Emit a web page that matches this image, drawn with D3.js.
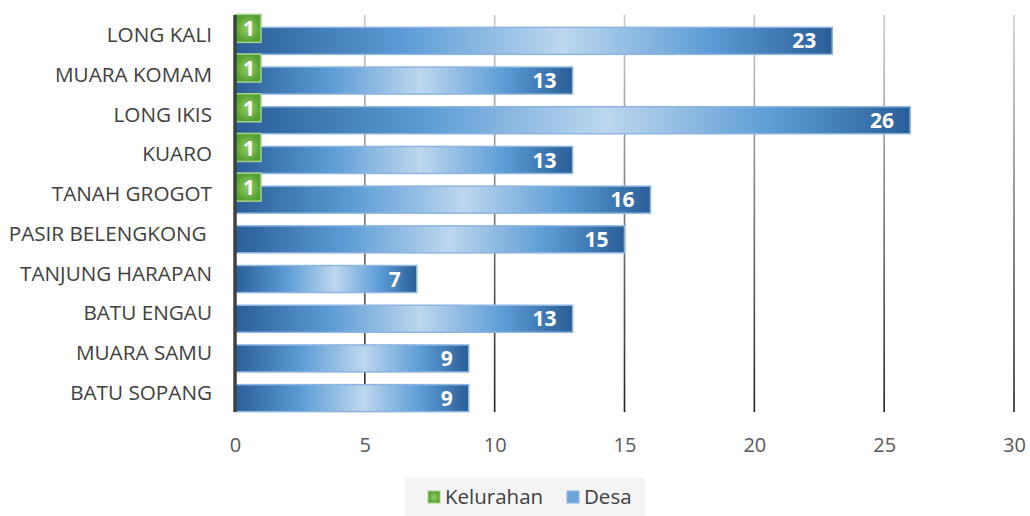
<!DOCTYPE html>
<html>
<head>
<meta charset="utf-8">
<script src="https://cdn.jsdelivr.net/npm/d3@7"></script>
<style>
  body { margin: 0; background: #fff; }
  svg { font-family: "Open Sans", "Noto Sans", sans-serif; }
  .cat { white-space: pre; }
</style>
</head>
<body>
<div id="chart"></div>
<script>
// data, top to bottom
const categories = ["LONG KALI", "MUARA KOMAM", "LONG IKIS", "KUARO", "TANAH GROGOT",
    "PASIR BELENGKONG ", "TANJUNG HARAPAN", "BATU ENGAU", "MUARA SAMU", "BATU SOPANG"];
const kelurahan = [1, 1, 1, 1, 1, null, null, null, null, null];
const desa = [23, 13, 26, 13, 16, 15, 7, 13, 9, 9];
const xTicks = [0, 5, 10, 15, 20, 25, 30];
const seriesNames = ["Kelurahan", "Desa"];

const width = 1030, height = 516;
const margin = { top: 15, right: 15, bottom: 104, left: 235 };

const svg = d3.select("#chart").append("svg")
    .attr("width", width).attr("height", height);

const defs = svg.append("defs");

// blue bar gradient: dark edges, light middle
const gBlue = defs.append("linearGradient").attr("id", "blue");
[[0, "#2a5e98"], [0.28, "#5b9bd5"], [0.55, "#bdd7ee"], [0.8, "#5b9bd5"], [1, "#2a5e98"]]
    .forEach(([o, c]) => gBlue.append("stop").attr("offset", o).attr("stop-color", c));

const gGreen = defs.append("radialGradient").attr("id", "green");
[[0, "#96cf63"], [1, "#52a030"]]
    .forEach(([o, c]) => gGreen.append("stop").attr("offset", o).attr("stop-color", c));

const gGrid = defs.append("linearGradient").attr("id", "grid")
    .attr("gradientUnits", "userSpaceOnUse")
    .attr("x1", 0).attr("y1", margin.top).attr("x2", 0).attr("y2", height - margin.bottom);
[[0, "#c8c8c8"], [1, "#1a1a1a"]]
    .forEach(([o, c]) => gGrid.append("stop").attr("offset", o).attr("stop-color", c));

const innerW = width - margin.left - margin.right;
const innerH = height - margin.top - margin.bottom;

const g = svg.append("g").attr("transform", `translate(${margin.left},${margin.top})`);

const x = d3.scaleLinear().domain([0, 30]).range([0, innerW - 1]);
const y = d3.scaleBand().domain(categories).range([0, innerH]);

const bandH = y.bandwidth();
const barH = 27;

// gridlines
g.append("g").selectAll("line")
    .data(xTicks.slice(1))
    .enter().append("line")
    .attr("x1", (d) => x(d)).attr("x2", (d) => x(d))
    .attr("y1", 0).attr("y2", innerH)
    .attr("stroke", "url(#grid)")
    .attr("stroke-width", 1.6);

// tick labels
const xAxis = g.append("g")
    .attr("transform", `translate(0,${innerH})`)
    .call(d3.axisBottom(x).tickValues(xTicks).tickSize(0).tickPadding(26));
xAxis.select(".domain").remove();
xAxis.selectAll("text")
    .attr("font-size", "20px")
    .attr("fill", "#595959")
    .style("font-family", "'Open Sans', sans-serif");

// desa bars
g.selectAll(".desa")
    .data(desa)
    .enter().append("rect")
    .attr("class", "desa")
    .attr("x", x(0))
    .attr("y", (d, i) => y(categories[i]) + bandH / 2 - barH / 2 + 6)
    .attr("width", (d) => x(d))
    .attr("height", barH)
    .attr("fill", "url(#blue)")
    .attr("stroke", "#8db4e2")
    .attr("stroke-width", 1.5);

g.selectAll(".desa-label")
    .data(desa)
    .enter().append("text")
    .attr("x", (d) => x(d) - 16)
    .attr("y", (d, i) => y(categories[i]) + bandH / 2 + 6)
    .attr("dy", "0.36em")
    .attr("text-anchor", "end")
    .attr("font-size", "21px")
    .attr("font-weight", "bold")
    .attr("fill", "#fff")
    .text((d) => d);

// kelurahan bars
const kel = kelurahan.map((v, i) => ({ v, cat: categories[i] })).filter((d) => d.v != null);

g.selectAll(".kel")
    .data(kel)
    .enter().append("rect")
    .attr("class", "kel")
    .attr("x", x(0))
    .attr("y", (d) => y(d.cat) + bandH / 2 - barH / 2 - 7)
    .attr("width", (d) => x(d.v))
    .attr("height", barH + 1)
    .attr("fill", "url(#green)")
    .attr("stroke", "#a9d18e")
    .attr("stroke-width", 1.5);

g.selectAll(".kel-label")
    .data(kel)
    .enter().append("text")
    .attr("x", (d) => x(d.v) / 2 + 1)
    .attr("y", (d) => y(d.cat) + bandH / 2 - 6)
    .attr("dy", "0.36em")
    .attr("text-anchor", "middle")
    .attr("font-size", "21px")
    .attr("font-weight", "bold")
    .attr("fill", "#fff")
    .text((d) => d.v);

// value axis line at 0
g.append("line")
    .attr("x1", x(0)).attr("x2", x(0))
    .attr("y1", 0).attr("y2", innerH)
    .attr("stroke", "#404040")
    .attr("stroke-width", 3.5);

// category labels
g.selectAll(".cat")
    .data(categories)
    .enter().append("text")
    .attr("class", "cat")
    .attr("x", -23)
    .attr("y", (d) => y(d) + bandH / 2)
    .attr("dy", "0.36em")
    .attr("text-anchor", "end")
    .attr("font-size", "20.7px")
    .attr("fill", "#404040")
    .text((d) => d);

// legend
const legend = svg.append("g");
legend.append("rect")
    .attr("x", 405).attr("y", 478).attr("width", 240).attr("height", 38)
    .attr("fill", "#f4f4f4");

const legendItems = [
    { name: seriesNames[0], fill: "url(#green)", stroke: "#a9d18e", x: 428 },
    { name: seriesNames[1], fill: "#6fa5da", stroke: "#8db4e2", x: 567 }
];
legendItems.forEach((it) => {
    legend.append("rect")
        .attr("x", it.x).attr("y", 491).attr("width", 12).attr("height", 12)
        .attr("fill", it.fill)
        .attr("stroke", it.stroke).attr("stroke-width", 1);
    legend.append("text")
        .attr("x", it.x + 17).attr("y", 497)
        .attr("dy", "0.36em")
        .attr("font-size", "20.5px")
        .attr("fill", "#404040")
        .text(it.name);
});
</script>
</body>
</html>
